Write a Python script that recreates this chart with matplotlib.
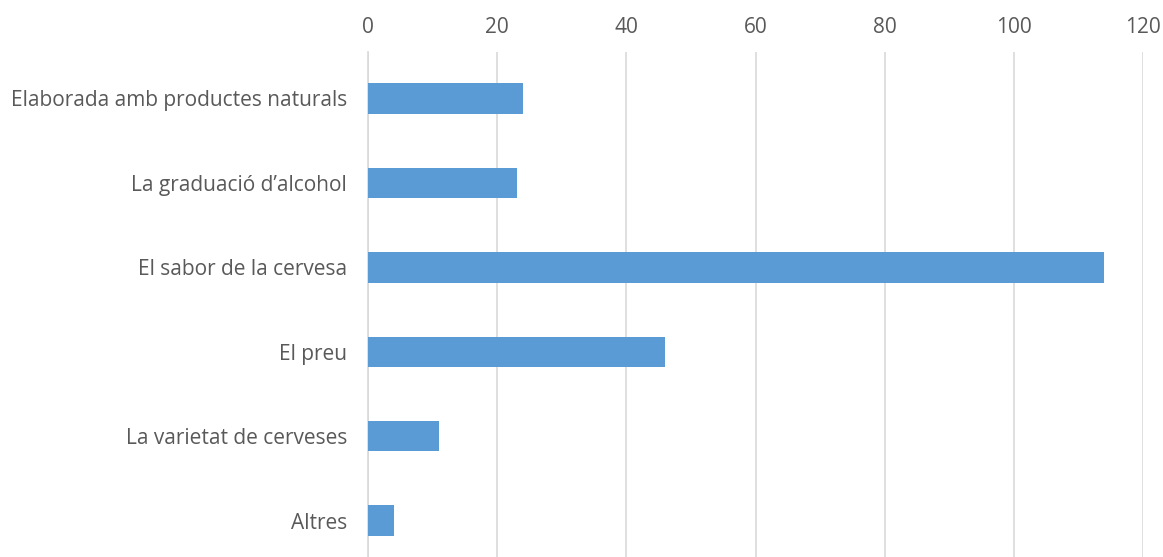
import matplotlib
matplotlib.use("Agg")
import matplotlib.pyplot as plt

# Factors considered when choosing a beer (number of answers)
categories = [
    "Elaborada amb productes naturals",
    "La graduació d\u2019alcohol",
    "El sabor de la cervesa",
    "El preu",
    "La varietat de cerveses",
    "Altres",
]
counts = [24, 23, 114, 46, 11, 4]
xticks = [0, 20, 40, 60, 80, 100, 120]

BAR_COLOR = "#5B9BD5"
GRID_COLOR = "#D9D9D9"
TEXT_COLOR = "#595959"

plt.rcParams.update({
    "font.family": ["Open Sans", "DejaVu Sans"],
    "font.size": 12,
})

W, H, DPI = 1163, 557, 100
fig = plt.figure(figsize=(W / DPI, H / DPI), dpi=DPI)
left, right, top = 368 / W, 1143 / W, 52 / H
ax = fig.add_axes([left, 0, right - left, 1 - top])

y = list(range(len(categories)))
ax.barh(y, counts, height=0.36, color=BAR_COLOR, zorder=3)

ax.set_xlim(0, 120)
ax.set_ylim(5.43, -0.55)
ax.set_xticks(xticks)
ax.set_yticks(y)
ax.set_yticklabels(categories)
ax.xaxis.tick_top()

ax.grid(axis="x", color=GRID_COLOR, linewidth=1.2, zorder=0)
ax.grid(axis="y", visible=False)
for side in ["top", "right", "bottom"]:
    ax.spines[side].set_visible(False)
ax.spines["left"].set_color(GRID_COLOR)
ax.spines["left"].set_linewidth(1.2)

ax.tick_params(axis="both", length=0, colors=TEXT_COLOR, labelsize=15)
ax.tick_params(axis="x", pad=10)
ax.tick_params(axis="y", pad=15)

fig.savefig("out.png", dpi=DPI)
